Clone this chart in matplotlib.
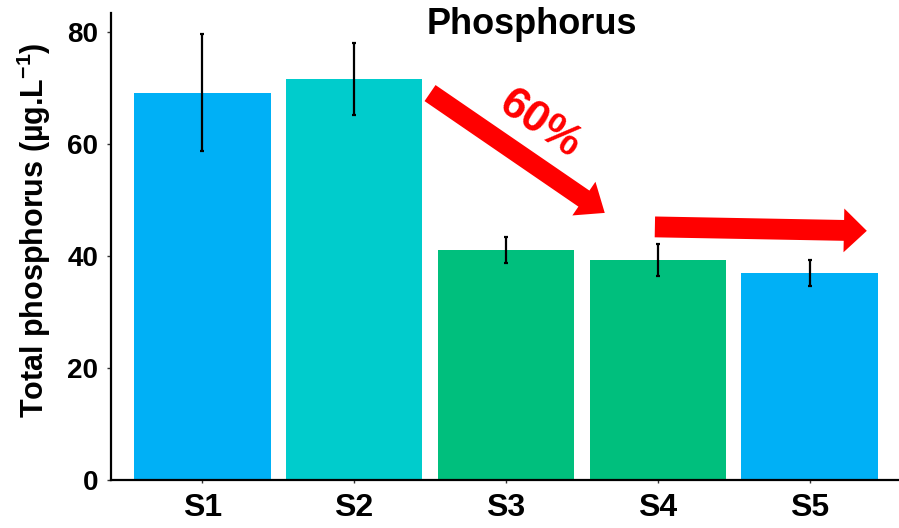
import matplotlib
matplotlib.use("Agg")
import matplotlib.pyplot as plt
import numpy as np

plt.rcParams['font.family'] = ['Liberation Sans', 'DejaVu Sans']
plt.rcParams['font.weight'] = 'bold'
plt.rcParams['mathtext.fontset'] = 'custom'
plt.rcParams['mathtext.rm'] = 'Liberation Sans:bold'
plt.rcParams['mathtext.bf'] = 'Liberation Sans:bold'
plt.rcParams['mathtext.default'] = 'bf'

categories = ['S1', 'S2', 'S3', 'S4', 'S5']
means = [69.2, 71.6, 41.1, 39.3, 37.0]
errors = [10.4, 6.4, 2.3, 2.8, 2.3]
colors = ['#00B0F6', '#00CCCC', '#00BF7D', '#00BF7D', '#00B0F6']
yticks = [0, 20, 40, 60, 80]

fig = plt.figure(figsize=(8.99, 5.28), dpi=100)
ax = fig.add_axes([111/899, 48/528, (901-111)/899, (480-13)/528])

x = np.arange(len(categories))
ax.bar(x, means, width=0.9, color=colors, zorder=2)
ax.errorbar(x, means, yerr=errors, fmt='none', ecolor='black',
            elinewidth=1.6, capsize=1.5, capthick=1.6, zorder=3)

ax.set_xlim(-0.6, 4.6)
ax.set_ylim(0, 83.4)
ax.set_xticks(x)
ax.set_xticklabels(categories, fontsize=23, fontweight='bold')
ax.set_yticks(yticks)
ax.set_yticklabels([str(v) for v in yticks], fontsize=20, fontweight='bold')
ax.tick_params(axis='y', length=3, width=1, color='#333333', pad=6)
ax.tick_params(axis='x', length=2.5, width=1, color='#333333', pad=7)

for s in ['top', 'right']:
    ax.spines[s].set_visible(False)
for s in ['left', 'bottom']:
    ax.spines[s].set_linewidth(1.6)
    ax.spines[s].set_color('black')

ax.set_ylabel(r'Total phosphorus (µg.L$^{-1}$)', fontsize=22, fontweight='bold')
ax.yaxis.set_label_coords(-0.074, 0.535)

fig.text(532/899, 1 - 25/528, 'Phosphorus', ha='center', va='center',
         fontsize=26, fontweight='bold')

# arrows
ax.annotate('', xy=(2.65, 47.7), xytext=(1.5, 69.1),
            arrowprops=dict(arrowstyle='simple,head_width=2.1,head_length=1.3,tail_width=1',
                            mutation_scale=14, color='#FF0000', lw=0, shrinkA=0, shrinkB=0),
            zorder=4)
ax.annotate('', xy=(4.375, 44.5), xytext=(2.98, 45.2),
            arrowprops=dict(arrowstyle='simple,head_width=2.1,head_length=1.1,tail_width=1',
                            mutation_scale=15, color='#FF0000', lw=0, shrinkA=0, shrinkB=0),
            zorder=4)
ax.text(2.22, 63.5, '60%', color='#FF0000', fontsize=32, fontweight='bold',
        rotation=-34, ha='center', va='center', rotation_mode='anchor')

fig.savefig('out.png', dpi=100)
